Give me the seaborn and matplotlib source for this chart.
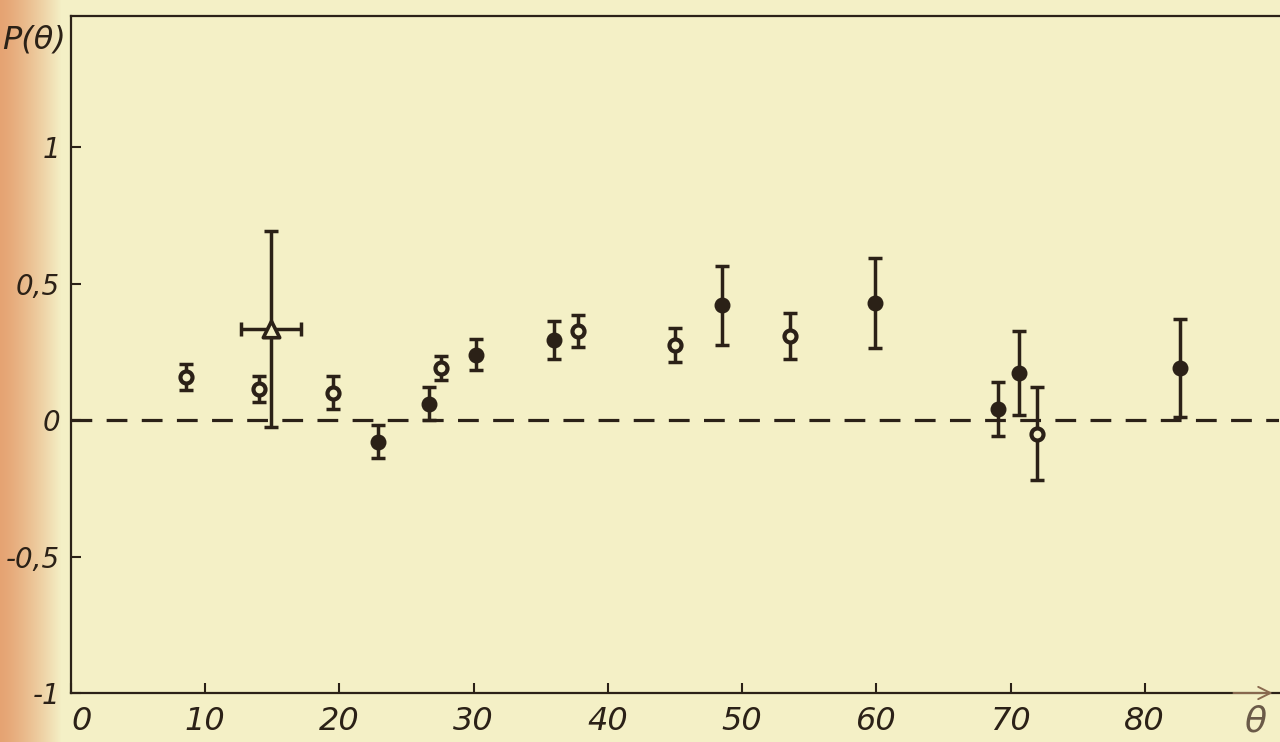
import numpy as np
import pandas as pd
import matplotlib
matplotlib.use("Agg")
import matplotlib.pyplot as plt
import seaborn as sns

# ---- data ----
theta_open = [8.6, 14.0, 19.5, 27.6, 37.8, 45.0, 53.6, 72.0]
p_open = [0.157, 0.114, 0.10, 0.19, 0.326, 0.275, 0.308, -0.05]
err_open = [0.047, 0.048, 0.06, 0.045, 0.057, 0.063, 0.085, 0.17]

theta_filled = [22.9, 26.7, 30.2, 36.0, 48.5, 59.9, 69.1, 70.6, 82.6]
p_filled = [-0.08, 0.06, 0.24, 0.293, 0.42, 0.43, 0.04, 0.172, 0.19]
err_filled = [0.06, 0.06, 0.055, 0.07, 0.145, 0.165, 0.10, 0.155, 0.18]

theta_tri = [14.9]
p_tri = [0.333]
yerr_tri = [0.36]
xerr_tri = [2.2]

x_ticks = [0, 10, 20, 30, 40, 50, 60, 70, 80]
x_ticklabels = ["0", "10", "20", "30", "40", "50", "60", "70", "80"]
y_ticks = [-1, -0.5, 0, 0.5, 1]
y_ticklabels = ["-1", "-0,5", "0", "0,5", "1"]

ink = "#2b2117"
paper = "#f4f0c6"

sns.set_theme(style="ticks")
plt.rcParams["font.family"] = ["DejaVu Sans"]

fig = plt.figure(figsize=(12.8, 7.42), dpi=100, facecolor=paper)

# orange tint of the paper edge on the left
w = 62
grad = np.zeros((742, w, 4))
c0 = np.array([0.90, 0.64, 0.45])
c1 = np.array(matplotlib.colors.to_rgb(paper))
t = np.linspace(0, 1, w) ** 1.3
for i in range(3):
    grad[:, :, i] = c0[i] + (c1[i] - c0[i]) * t[None, :]
grad[:, :, 3] = 1.0
fig.figimage(grad, xo=0, yo=0, zorder=-10)

ax = fig.add_axes([71 / 1280, 1 - 693 / 742, (1279 - 71) / 1280, (693 - 16) / 742])
ax.set_zorder(1)
ax.patch.set_alpha(0.0)

ax.set_xlim(0, 90)
ax.set_ylim(-1, 1.48)

# zero line
ax.axhline(0, color=ink, lw=2.3, dashes=(6.5, 4.5), zorder=1)

# error bars
ebkw = dict(fmt="none", ecolor=ink, elinewidth=2.5, capsize=5, capthick=2.5, zorder=2)
ax.errorbar(theta_open, p_open, yerr=err_open, **ebkw)
ax.errorbar(theta_filled, p_filled, yerr=err_filled, **ebkw)
ax.errorbar(theta_tri, p_tri, yerr=yerr_tri, xerr=xerr_tri, **ebkw)

df_open = pd.DataFrame({"theta": theta_open, "p": p_open})
df_filled = pd.DataFrame({"theta": theta_filled, "p": p_filled})
df_tri = pd.DataFrame({"theta": theta_tri, "p": p_tri})

sns.scatterplot(data=df_filled, x="theta", y="p", ax=ax, marker="o", s=110,
                color=ink, edgecolor=ink, linewidth=1.0, zorder=3)
sns.scatterplot(data=df_open, x="theta", y="p", ax=ax, marker="o", s=75,
                facecolor=paper, edgecolor=ink, linewidth=3.0, zorder=3)
sns.scatterplot(data=df_tri, x="theta", y="p", ax=ax, marker="^", s=140,
                facecolor=paper, edgecolor=ink, linewidth=2.6, zorder=3)

ax.set_xlabel("")
ax.set_ylabel("")

# spines
for side in ["left", "bottom", "top"]:
    ax.spines[side].set_color(ink)
    ax.spines[side].set_linewidth(1.6)
ax.spines["right"].set_visible(False)

ax.set_xticks(x_ticks)
ax.set_xticklabels(x_ticklabels)
ax.set_yticks(y_ticks)
ax.set_yticklabels(y_ticklabels)
ax.tick_params(axis="both", direction="in", length=7, width=1.5, color=ink,
               labelcolor=ink)
ax.tick_params(axis="x", pad=9, labelsize=23)
ax.tick_params(axis="y", pad=8, labelsize=20)
for lab in ax.get_xticklabels() + ax.get_yticklabels():
    lab.set_fontstyle("italic")
ax.get_xticklabels()[0].set_horizontalalignment("left")

# arrow at end of x axis
ax.annotate("", xy=(0.997, 0), xytext=(0.96, 0), xycoords="axes fraction",
            textcoords="axes fraction",
            arrowprops=dict(arrowstyle="->", color="#8a6a50", lw=1.4,
                            mutation_scale=22), annotation_clip=False)

# axis labels
fig.text(0.002, 1 - 40 / 742, "P(θ)", ha="left", va="center", fontsize=23,
         color=ink, fontstyle="italic")
fig.text(1255 / 1280, 1 - 722 / 742, "θ", ha="center", va="center",
         fontsize=26, color="#6a5a48", fontstyle="italic")

fig.savefig("out.png", dpi=100, facecolor=paper)
